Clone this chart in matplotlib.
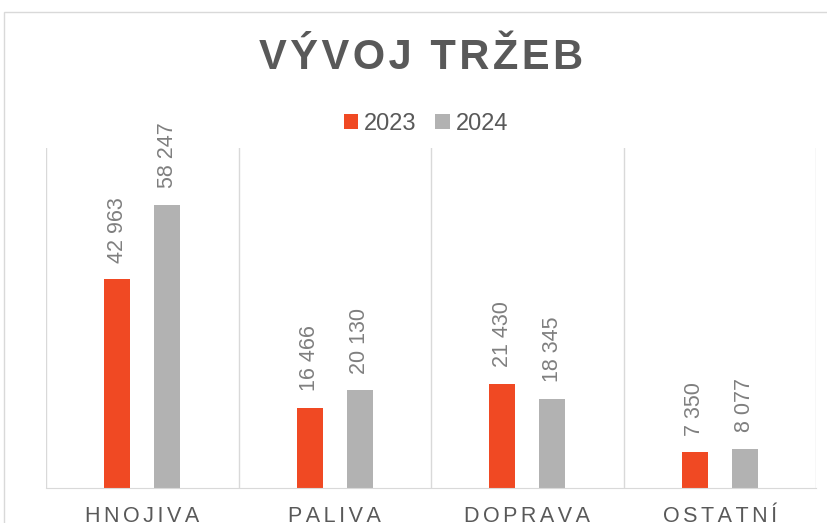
import matplotlib.pyplot as plt
import numpy as np
from matplotlib.patches import Rectangle

plt.rcParams['font.family'] = ['Liberation Sans', 'DejaVu Sans']

# data
kategorie = ['HNOJIVA', 'PALIVA', 'DOPRAVA', 'OSTATNÍ']
trzby_2023 = [42963, 16466, 21430, 7350]
trzby_2024 = [58247, 20130, 18345, 8077]
roky = ['2023', '2024']

c23 = '#F04923'
c24 = '#B2B2B2'
seda = '#595959'

def fmt(v):
    return f'{v:,}'.replace(',', ' ')

def rozestup(s, n=1):
    return ('\u200a' * n).join(s)

fig = plt.figure(figsize=(8.27, 5.23), dpi=100)
fig.patches.append(Rectangle((4/827, -0.1), 1.2, (523-12)/523 + 0.1, transform=fig.transFigure,
                             fill=False, edgecolor='#D9D9D9', linewidth=1))
ax = fig.add_axes([46/827, 35/523, 770/827, 340/523])

x = np.arange(len(kategorie))
w = 0.135
off = 0.13
b1 = ax.bar(x - off, trzby_2023, w, color=c23, label=roky[0])
b2 = ax.bar(x + off, trzby_2024, w, color=c24, label=roky[1])

for bars, vals in [(b1, trzby_2023), (b2, trzby_2024)]:
    for r, v in zip(bars, vals):
        ax.annotate(fmt(v), (r.get_x() + r.get_width()/2, v), xytext=(0, 12),
                    textcoords='offset points', rotation=90, ha='center', va='bottom',
                    fontsize=15.5, color='#7F7F7F')

ax.set_xlim(-0.5, 3.5)
ax.set_ylim(0, 70000)
for g in np.arange(-0.5, 4, 1):
    ax.axvline(g, color='#D9D9D9', linewidth=1, zorder=0)
for s in ['top', 'left', 'right']:
    ax.spines[s].set_visible(False)
ax.spines['bottom'].set_color('#D9D9D9')
ax.set_yticks([])
ax.set_xticks(x)
ax.set_xticklabels([rozestup(k, 2) for k in kategorie], fontsize=15.5, color=seda)
ax.tick_params(axis='x', length=0, pad=13)

fig.text(421/827, 1 - 58/523, rozestup('VÝVOJ TRŽEB'), ha='center', va='center',
         fontsize=30, fontweight='bold', color=seda)
fig.legend(loc='center', bbox_to_anchor=(426/827, 1 - 124/523), ncol=2, frameon=False,
           fontsize=17, handlelength=0.6, handleheight=0.6, handletextpad=0.25,
           columnspacing=0.8, labelcolor=seda)

fig.savefig('out.png', dpi=100)
